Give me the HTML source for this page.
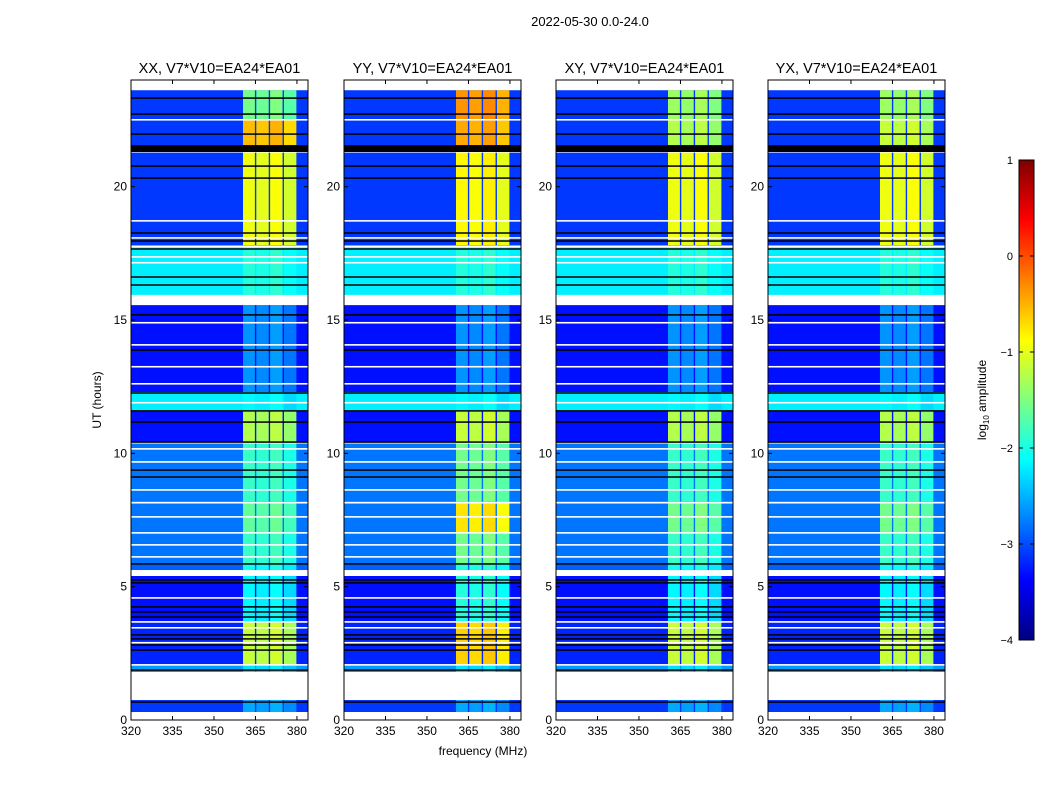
<!DOCTYPE html>
<html><head><meta charset="utf-8"><style>
body{margin:0;background:#fff;font-family:"Liberation Sans",sans-serif}
svg text{font-family:"Liberation Sans",sans-serif}
</style></head><body>
<svg id="fig" width="1050" height="800" viewBox="0 0 1050 800" xmlns="http://www.w3.org/2000/svg">
<rect width="1050" height="800" fill="#fff"/>
<text x="590" y="26" font-size="13" text-anchor="middle">2022-05-30 0.0-24.0</text>
<text x="483" y="755" font-size="12" text-anchor="middle">frequency (MHz)</text>
<text transform="translate(101,400) rotate(-90)" font-size="12" text-anchor="middle">UT (hours)</text>
<text transform="translate(986,400) rotate(-90)" font-size="12" text-anchor="middle">log<tspan font-size="8" dy="3">10</tspan><tspan dy="-3"> amplitude</tspan></text>
<g id="panels"></g>
<g id="cbar"></g>
</svg>
<script>
const panelNames=["XX, V7*V10=EA24*EA01","YY, V7*V10=EA24*EA01","XY, V7*V10=EA24*EA01","YX, V7*V10=EA24*EA01"];
const segStart=[22.5,21.56,17.8,15.94,12.3,11.6,10.4,8.2,7.0,5.85,5.62,3.7,2.06,1.8,0.3];
const segEnd=[23.62,22.5,21.3,17.8,15.56,12.3,11.6,10.4,8.2,7.0,5.85,5.4,3.7,2.06,0.75];
const segBg=[-3.1,-3.1,-3.1,-2.2,-3.3,-2.2,-3.3,-2.8,-2.8,-2.8,-2.9,-3.3,-3.2,-2.6,-3.1];
const bandXX=[-1.6,-0.6,-1.0,-2.0,-2.7,-2.2,-1.3,-1.9,-1.7,-1.9,-2.1,-2.2,-1.2,-2.3,-2.6];
const bandYY=[-0.4,-0.5,-0.9,-2.0,-2.7,-2.2,-1.2,-1.6,-0.8,-1.6,-2.0,-2.0,-0.7,-2.3,-2.6];
const bandXY=[-1.4,-1.3,-1.0,-2.0,-2.7,-2.2,-1.3,-1.9,-1.6,-1.9,-2.1,-2.2,-1.2,-2.3,-2.6];
const bandYX=[-1.4,-1.2,-1.0,-2.0,-2.7,-2.2,-1.3,-1.9,-1.6,-1.9,-2.1,-2.2,-1.2,-2.3,-2.6];
const subStart=[360.5,365.3,370.3,375.3];
const subEnd=[364.8,369.8,374.8,379.8];
const subOffset=[0.05,0,0.1,-0.1];
const whiteLines=[22.5,21.3,18.71,18.07,17.74,17.36,17.14,14.89,14.06,13.24,12.6,11.89,10.39,10.16,9.67,8.62,8.14,7.61,7.01,6.56,6.11,4.57,3.67,3.45,2.89,2.06];
const blackLines=[23.32,22.72,21.97,20.77,20.32,18.26,17.96,17.66,16.61,16.31,15.19,13.87,12.26,11.59,11.17,10.42,9.37,9.11,5.85,5.25,5.14,4.24,4.05,3.86,3.19,3.04,2.81,2.62,1.87,0.67];
const whiteBlockStart=[23.62,15.56,5.4,1.57,0.75,0];
const whiteBlockEnd=[24,15.94,5.62,1.8,1.5,0.3];
const blackBlockStart=[21.3];
const blackBlockEnd=[21.56];
const xTicks=[320,335,350,365,380];
const yTicks=[0,5,10,15,20];
const cbTicks=[1,0,-1,-2,-3,-4];
const bands=[bandXX,bandYY,bandXY,bandYX];
const panelLeft=[131,344,556,768];

const NS="http://www.w3.org/2000/svg";
function el(t,a,p){const e=document.createElementNS(NS,t);for(const k in a)e.setAttribute(k,a[k]);p.appendChild(e);return e;}
function jet(v){let t=(v+4)/5;t=Math.max(0,Math.min(1,t));
 const c=x=>Math.round(255*Math.max(0,Math.min(1,x)));
 return `rgb(${c(1.5-Math.abs(4*t-3))},${c(1.5-Math.abs(4*t-2))},${c(1.5-Math.abs(4*t-1))})`;}
const PW=177,TOP=80,BOT=720;
const yS=h=>BOT-(h/24)*(BOT-TOP);
const G=document.getElementById('panels');
panelNames.forEach((nm,p)=>{
 const L=panelLeft[p];const xS=f=>L+(f-320)/(384-320)*PW;
 const g=el('g',{},G);
 
 
 const tt=el('text',{x:L+PW/2,y:73,'font-size':14.5,'text-anchor':'middle'},g);tt.textContent=nm;
 
 
 segStart.forEach((s,i)=>{
  const y1=yS(segEnd[i]),y2=yS(s);
  const r=el('rect',{x:L,y:y1,width:PW,height:y2-y1,fill:jet(segBg[i])},g);
  
  
  subStart.forEach((f,j)=>{
   const c=el('rect',{x:xS(f),y:y1,width:xS(subEnd[j])-xS(f),height:y2-y1,fill:jet(bands[p][i]+subOffset[j])},g);
   
   
  });
 });
 whiteLines.forEach(h=>{const l=el('rect',{x:L,y:yS(h)-1,width:PW,height:1.6,fill:'#fff'},g);});
 blackLines.forEach(h=>{const l=el('rect',{x:L,y:yS(h)-0.8,width:PW,height:1.5,fill:'#000'},g);});
 whiteBlockStart.forEach((s,i)=>{const b=el('rect',{x:L,y:yS(whiteBlockEnd[i]),width:PW,height:yS(s)-yS(whiteBlockEnd[i]),fill:'#fff'},g);});
 blackBlockStart.forEach((s,i)=>{const b=el('rect',{x:L,y:yS(blackBlockEnd[i]),width:PW,height:yS(s)-yS(blackBlockEnd[i]),fill:'#000'},g);});
 el('rect',{x:L,y:TOP,width:PW,height:BOT-TOP,fill:'none',stroke:'#000','stroke-width':1},g);
 xTicks.forEach(f=>{const x=xS(f);el('line',{x1:x,y1:BOT,x2:x,y2:BOT-4,stroke:'#000'},g);el('line',{x1:x,y1:TOP,x2:x,y2:TOP+4,stroke:'#000'},g);
  const t=el('text',{x:x,y:BOT+15,'font-size':12,'text-anchor':'middle'},g);t.textContent=f;
  });
 yTicks.forEach(h=>{const y=yS(h);el('line',{x1:L,y1:y,x2:L+4,y2:y,stroke:'#000'},g);el('line',{x1:L+PW,y1:y,x2:L+PW-4,y2:y,stroke:'#000'},g);
  const t=el('text',{x:L-4,y:y+4,'font-size':12,'text-anchor':'end'},g);t.textContent=h;
  });
});
// colorbar
const C=document.getElementById('cbar');


const defs=el('defs',{},C);const lg=el('linearGradient',{id:'jetg',x1:0,y1:1,x2:0,y2:0},defs);
for(let i=0;i<=40;i++){el('stop',{offset:i/40,'stop-color':jet(-4+5*i/40)},lg);}
const cT=160,cB=640,cL=1019,cW=15;
el('rect',{x:cL,y:cT,width:cW,height:cB-cT,fill:'url(#jetg)',stroke:'#000'},C);
const cy=v=>cB-(v+4)/5*(cB-cT);
cbTicks.forEach(v=>{const y=cy(v);el('line',{x1:cL,y1:y,x2:cL+4,y2:y,stroke:'#000'},C);el('line',{x1:cL+cW,y1:y,x2:cL+cW-4,y2:y,stroke:'#000'},C);
 const t=el('text',{x:cL-6,y:y+4,'font-size':11,'text-anchor':'end'},C);t.textContent=v<0?'\u2212'+(-v):v;
 });
</script>
</body></html>
